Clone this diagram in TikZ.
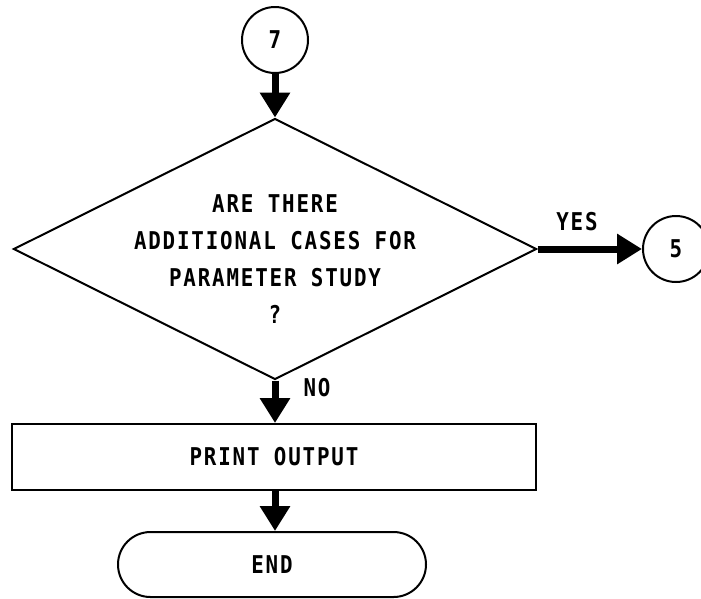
\documentclass[tikz,border=0pt]{standalone}
\usepackage{fontspec}
\setmonofont{DejaVu Sans Mono}[FakeStretch=0.85,LetterSpace=7.5]
\usetikzlibrary{shapes.geometric,shapes.misc,arrows.meta}
\begin{document}
\begin{tikzpicture}[x=1pt,y=-1pt,
  lbl/.style={font=\ttfamily\bfseries\fontsize{24.5}{28}\selectfont, inner sep=0pt},
  shp/.style={draw, line width=2pt},
  flow/.style={line width=7pt, -{Triangle[length=25pt,width=29pt]}}]
\useasboundingbox (0,0) rectangle (701,598);
\node[shp, circle, minimum size=66pt, lbl] (c7) at (275,40) {7};
\node[shp, diamond, aspect=2, minimum width=523pt, minimum height=261pt, inner sep=0pt] (dec) at (275,249) {};
\node[lbl, anchor=base] (q1) at (275,212) {ARE THERE};
\node[lbl, anchor=base] (q2) at (275,249) {ADDITIONAL CASES FOR};
\node[lbl, anchor=base] (q3) at (275,286) {PARAMETER STUDY};
\node[lbl, anchor=base] (q4) at (275,323) {?};
\node[shp, circle, minimum size=66pt, lbl] (c5) at (676,249) {5};
\node[shp, rectangle, minimum width=524pt, minimum height=66pt, lbl] (pr) at (274,457) {PRINT OUTPUT};
\node[shp, rounded rectangle, minimum width=308pt, minimum height=65pt, lbl] (trm) at (272,564.5) {END};
\node[lbl] (yes) at (577,222) {YES};
\node[lbl] (no) at (317,388) {NO};
\draw[flow] (c7.south) -- (dec.north);
\draw[flow] (dec.east) -- (c5.west);
\draw[flow] (dec.south) -- (dec.south |- pr.north);
\draw[flow] (dec.south |- pr.south) -- (dec.south |- trm.north);
\end{tikzpicture}
\end{document}
